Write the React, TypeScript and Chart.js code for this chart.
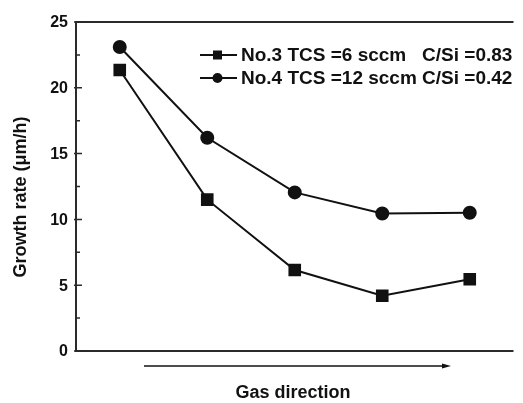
import React, { useEffect, useRef } from "react";
import { Chart, registerables } from "chart.js";

Chart.register(...registerables);

const categories = ["1", "2", "3", "4", "5"];
const no3Values = [21.35, 11.5, 6.15, 4.2, 5.45];
const no4Values = [23.1, 16.2, 12.05, 10.45, 10.5];
const yTicks = [0, 5, 10, 15, 20, 25];
const yMinorTicks = [2.5, 7.5, 12.5, 17.5, 22.5];
const legendLabels = [
  "No.3 TCS =6 sccm   C/Si =0.83",
  "No.4 TCS =12 sccm C/Si =0.42",
];
const yTitle = "Growth rate (\u03bcm/h)";
const xTitle = "Gas direction";

const FONT = "'Liberation Sans', Arial, sans-serif";
const INK = "#111";

const overlay = {
  id: "overlay",
  afterDraw(chart: any) {
    const ctx = chart.ctx;
    const { left, right, top, bottom } = chart.chartArea;
    const y = chart.scales.y;
    ctx.save();
    // frame: left, top, bottom
    ctx.strokeStyle = "#2a2a2a";
    ctx.lineWidth = 2;
    ctx.beginPath();
    ctx.moveTo(right, top);
    ctx.lineTo(left, top);
    ctx.lineTo(left, bottom);
    ctx.lineTo(right, bottom);
    ctx.stroke();
    // y ticks
    ctx.lineWidth = 1.5;
    ctx.beginPath();
    for (const v of yTicks) {
      const py = y.getPixelForValue(v);
      ctx.moveTo(left - 2, py);
      ctx.lineTo(left + 6, py);
    }
    for (const v of yMinorTicks) {
      const py = y.getPixelForValue(v);
      ctx.moveTo(left, py);
      ctx.lineTo(left + 4, py);
    }
    ctx.stroke();
    // tick labels
    ctx.fillStyle = INK;
    ctx.font = `bold 16px ${FONT}`;
    ctx.textAlign = "right";
    ctx.textBaseline = "middle";
    for (const v of yTicks) {
      ctx.fillText(String(v), left - 8, y.getPixelForValue(v) + 1);
    }
    // y title
    ctx.save();
    ctx.translate(21, 197);
    ctx.rotate(-Math.PI / 2);
    ctx.textAlign = "center";
    ctx.textBaseline = "middle";
    ctx.font = `bold 18px ${FONT}`;
    ctx.fillText(yTitle, 0, 0);
    ctx.restore();
    // gas direction arrow
    const ay = bottom + 15;
    ctx.strokeStyle = INK;
    ctx.lineWidth = 1.5;
    ctx.beginPath();
    ctx.moveTo(144, ay);
    ctx.lineTo(444, ay);
    ctx.stroke();
    ctx.beginPath();
    ctx.moveTo(451, ay);
    ctx.lineTo(442, ay - 2.5);
    ctx.lineTo(442, ay + 2.5);
    ctx.closePath();
    ctx.fill();
    ctx.font = `bold 18px ${FONT}`;
    ctx.textAlign = "center";
    ctx.textBaseline = "middle";
    ctx.fillText(xTitle, 293, bottom + 42);
    // legend
    const rows = [55, 78];
    ctx.font = `bold 19px ${FONT}`;
    ctx.textAlign = "left";
    legendLabels.forEach((lab, i) => {
      const ly = rows[i];
      ctx.strokeStyle = INK;
      ctx.lineWidth = 2;
      ctx.beginPath();
      ctx.moveTo(200, ly);
      ctx.lineTo(237, ly);
      ctx.stroke();
      ctx.fillStyle = INK;
      if (i === 0) {
        ctx.fillRect(213, ly - 4.5, 9, 9);
      } else {
        ctx.beginPath();
        ctx.arc(217.5, ly, 5, 0, Math.PI * 2);
        ctx.fill();
      }
      ctx.fillText(lab, 241, ly + 1);
    });
    ctx.restore();
  },
};

export default function App() {
  const ref = useRef<HTMLCanvasElement | null>(null);
  useEffect(() => {
    if (!ref.current) return;
    const chart = new Chart(ref.current, {
      type: "line",
      data: {
        labels: categories,
        datasets: [
          {
            label: legendLabels[0],
            data: no3Values,
            borderColor: INK,
            backgroundColor: INK,
            borderWidth: 2,
            pointStyle: "rect",
            pointRadius: 7.5,
            pointHoverRadius: 7.5,
            tension: 0,
          },
          {
            label: legendLabels[1],
            data: no4Values,
            borderColor: INK,
            backgroundColor: INK,
            borderWidth: 2,
            pointStyle: "circle",
            pointRadius: 6,
            pointHoverRadius: 6,
            tension: 0,
          },
        ],
      },
      options: {
        responsive: false,
        animation: false,
        layout: { padding: { left: 76, top: 22, right: 0, bottom: 52 } },
        plugins: { legend: { display: false }, tooltip: { enabled: false } },
        scales: {
          x: { type: "category", offset: true, display: false },
          y: { min: 0, max: 25, display: false },
        },
        clip: false as any,
      },
      plugins: [overlay],
    });
    return () => chart.destroy();
  }, []);
  return (
    <div style={{ position: "absolute", left: 0, top: 0, width: 523, height: 403, background: "#fff" }}>
      <canvas ref={ref} width={523} height={403} style={{ display: "block" }} />
    </div>
  );
}
